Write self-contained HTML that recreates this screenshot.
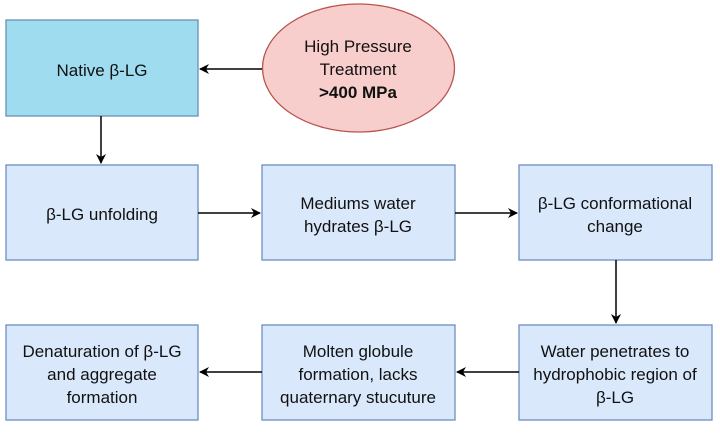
<!DOCTYPE html>
<html><head><style>body{margin:0;background:#fff}svg text{font-family:"Liberation Sans",sans-serif;font-size:17px;fill:#111}</style></head><body>
<svg width="720" height="429" viewBox="0 0 720 429" xmlns="http://www.w3.org/2000/svg">
<defs><marker id="a" markerWidth="10" markerHeight="10" refX="9" refY="5" orient="auto" markerUnits="userSpaceOnUse"><path d="M0,0 L10,5 L0,10 L3,5 Z" fill="#000"/></marker></defs>
<rect x="6" y="20" width="192" height="96" fill="#a0dcf0" stroke="#6a8fb5" stroke-width="1.3"/>
<ellipse cx="358.5" cy="68" rx="96" ry="64" fill="#f8cecc" stroke="#b85450" stroke-width="1.3"/>
<g fill="#dae8fc" stroke="#6c8ebf" stroke-width="1.3">
<rect x="6" y="165" width="192" height="95"/><rect x="262" y="165" width="193" height="95"/><rect x="519" y="165" width="193" height="95"/>
<rect x="6" y="325" width="192" height="95"/><rect x="262" y="325" width="193" height="95"/><rect x="519" y="325" width="193" height="95"/>
</g>
<g stroke="#000" stroke-width="1.5" fill="none">
<line x1="262" y1="69" x2="200" y2="69" marker-end="url(#a)"/>
<line x1="101" y1="116" x2="101" y2="163" marker-end="url(#a)"/>
<line x1="198" y1="213" x2="260" y2="213" marker-end="url(#a)"/>
<line x1="455" y1="213" x2="517" y2="213" marker-end="url(#a)"/>
<line x1="616" y1="260" x2="616" y2="323" marker-end="url(#a)"/>
<line x1="519" y1="372" x2="457" y2="372" marker-end="url(#a)"/>
<line x1="262" y1="372" x2="200" y2="372" marker-end="url(#a)"/>
</g>
<g text-anchor="middle">
<text x="102" y="76">Native β-LG</text>
<text x="358" y="52">High Pressure</text><text x="358" y="75">Treatment</text><text x="358" y="98" font-weight="bold">&gt;400 MPa</text>
<text x="102" y="220">β-LG unfolding</text>
<text x="358" y="209">Mediums water</text><text x="358" y="232">hydrates β-LG</text>
<text x="615" y="209">β-LG conformational</text><text x="615" y="232">change</text>
<text x="102" y="357">Denaturation of β-LG</text><text x="102" y="380">and aggregate</text><text x="102" y="403">formation</text>
<text x="358" y="357">Molten globule</text><text x="358" y="380">formation, lacks</text><text x="358" y="403">quaternary stucuture</text>
<text x="615" y="357">Water penetrates to</text><text x="615" y="380">hydrophobic region of</text><text x="615" y="403">β-LG</text>
</g>
</svg>
</body></html>
